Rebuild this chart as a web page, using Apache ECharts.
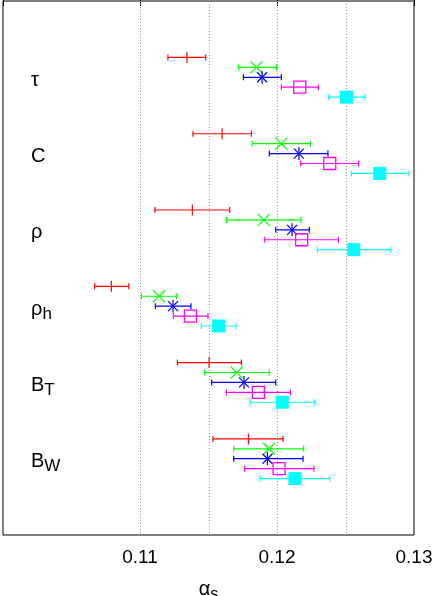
<!DOCTYPE html>
<html>
<head>
<meta charset="utf-8">
<script src="https://cdn.jsdelivr.net/npm/echarts@6/dist/echarts.min.js"></script>
<style>
html, body { margin: 0; padding: 0; background: #fff; }
#chart { width: 434px; height: 596px; }
</style>
</head>
<body>
<div id="chart"></div>
<script>
// observables (rows, top to bottom) : base letter + subscript
var obsBase = ['τ', 'C', 'ρ', 'ρ', 'B', 'B'];
var obsSub = ['', '', '', 'h', 'T', 'W'];
var xTickLabels = [0.11, 0.12, 0.13];
var guideValues = [0.11, 0.115, 0.12, 0.125];

// alpha_s per observable : [value, low, high]
var redSet = [
    [0.11343, 0.11204, 0.11480],
    [0.11599, 0.11387, 0.11813],
    [0.11382, 0.11109, 0.11655],
    [0.10791, 0.10669, 0.10918],
    [0.11504, 0.11273, 0.11740],
    [0.11791, 0.11533, 0.12044]
];
var greenSet = [
    [0.11850, 0.11718, 0.11996],
    [0.12032, 0.11818, 0.12244],
    [0.11903, 0.11631, 0.12175],
    [0.11139, 0.11010, 0.11266],
    [0.11706, 0.11470, 0.11942],
    [0.11942, 0.11684, 0.12195]
];
var blueSet = [
    [0.11891, 0.11755, 0.12032],
    [0.12160, 0.11944, 0.12372],
    [0.12110, 0.11991, 0.12236],
    [0.11241, 0.11112, 0.11372],
    [0.11759, 0.11523, 0.11991],
    [0.11930, 0.11684, 0.12190]
];
var magentaSet = [
    [0.12166, 0.12032, 0.12302],
    [0.12385, 0.12173, 0.12596],
    [0.12180, 0.11910, 0.12448],
    [0.11368, 0.11244, 0.11496],
    [0.11864, 0.11631, 0.12098],
    [0.12015, 0.11764, 0.12270]
];
var cyanSet = [
    [0.12507, 0.12375, 0.12642],
    [0.12750, 0.12543, 0.12964],
    [0.12560, 0.12295, 0.12830],
    [0.11574, 0.11448, 0.11701],
    [0.12039, 0.11803, 0.12273],
    [0.12131, 0.11876, 0.12385]
];

function toRows(set) {
    return set.map(function (d, i) { return [d[0], d[1], d[2], i + 1]; });
}

function makeRender(marker, color, offset) {
    return function (params, api) {
        var row = api.value(3) + offset;
        var c = api.coord([api.value(0), row]);
        var lo = api.coord([api.value(1), row]);
        var hi = api.coord([api.value(2), row]);
        var st = { stroke: color, lineWidth: 1.2, fill: null };
        var kids = [
            { type: 'line', shape: { x1: lo[0], y1: c[1], x2: hi[0], y2: c[1] }, style: st },
            { type: 'line', shape: { x1: lo[0], y1: c[1] - 3, x2: lo[0], y2: c[1] + 3 }, style: st },
            { type: 'line', shape: { x1: hi[0], y1: c[1] - 3, x2: hi[0], y2: c[1] + 3 }, style: st }
        ];
        var x = c[0], y = c[1];
        if (marker === 'plus') {
            kids.push({ type: 'line', shape: { x1: x, y1: y - 5.5, x2: x, y2: y + 5.5 }, style: st });
        } else if (marker === 'cross') {
            kids.push({ type: 'line', shape: { x1: x - 6, y1: y - 6, x2: x + 6, y2: y + 6 }, style: st });
            kids.push({ type: 'line', shape: { x1: x - 6, y1: y + 6, x2: x + 6, y2: y - 6 }, style: st });
        } else if (marker === 'star') {
            kids.push({ type: 'line', shape: { x1: x - 5, y1: y - 5, x2: x + 5, y2: y + 5 }, style: st });
            kids.push({ type: 'line', shape: { x1: x - 5, y1: y + 5, x2: x + 5, y2: y - 5 }, style: st });
            kids.push({ type: 'line', shape: { x1: x, y1: y - 6.5, x2: x, y2: y + 6.5 }, style: st });
        } else if (marker === 'square') {
            kids.push({ type: 'rect', shape: { x: x - 6, y: y - 6, width: 12, height: 12 }, style: { stroke: color, lineWidth: 1.3, fill: null } });
        } else if (marker === 'filled') {
            kids.push({ type: 'rect', shape: { x: x - 6.5, y: y - 6.5, width: 13, height: 13 }, style: { fill: color } });
        }
        return { type: 'group', children: kids };
    };
}

function makeSeries(name, set, marker, color, offset) {
    return {
        name: name,
        type: 'custom',
        renderItem: makeRender(marker, color, offset),
        encode: { x: [0, 1, 2], y: 3 },
        data: toRows(set),
        clip: false,
        z: 3
    };
}

// dotted vertical guides, one per value in guideValues
function renderGuide(params, api) {
    var p = api.coord([api.value(0), 0]);
    var cs = params.coordSys;
    var x = Math.round(p[0]) + 0.5;
    return {
        type: 'line',
        shape: { x1: x, y1: cs.y, x2: x, y2: cs.y + cs.height },
        style: { stroke: '#999', lineWidth: 1, lineDash: [1, 2] }
    };
}

var myChart = echarts.init(document.getElementById('chart'));
var font = '"Liberation Sans", Arial, sans-serif';

var series = [{
        name: 'guides',
        type: 'custom',
        renderItem: renderGuide,
        encode: { x: 0 },
        data: guideValues.map(function (v) { return [v]; }),
        silent: true,
        z: 1
    },
    makeSeries('red', redSet, 'plus', '#ff0000', -0.26),
    makeSeries('green', greenSet, 'cross', '#00ff00', -0.13),
    makeSeries('blue', blueSet, 'star', '#0000ff', 0),
    makeSeries('magenta', magentaSet, 'square', '#ff00ff', 0.13),
    makeSeries('cyan', cyanSet, 'filled', '#00ffff', 0.26)
];

var option = {
    animation: false,
    grid: {
        left: 3,
        top: 1,
        width: 411,
        height: 534,
        outerBoundsMode: 'none',
        containLabel: false,
        show: true,
        borderColor: '#000',
        borderWidth: 1
    },
    xAxis: [{
        type: 'value',
        position: 'bottom',
        min: 0.10,
        max: 0.13,
        interval: 0.01,
        name: '{a|α}{s|s}',
        nameLocation: 'middle',
        nameGap: 40,
        nameTextStyle: {
            rich: {
                a: { fontFamily: font, fontSize: 20, color: '#000', verticalAlign: 'middle' },
                s: { fontFamily: font, fontSize: 16, color: '#000', verticalAlign: 'middle', padding: [12, 0, 0, 0] }
            }
        },
        axisLine: { show: false },
        axisTick: { show: true, inside: true, length: 5, lineStyle: { color: '#000' } },
        splitLine: { show: false },
        axisLabel: {
            margin: 13,
            fontFamily: font,
            fontSize: 19,
            color: '#000',
            formatter: function (v) {
                for (var i = 0; i < xTickLabels.length; i++) {
                    if (Math.abs(v - xTickLabels[i]) < 1e-6) return xTickLabels[i].toFixed(2);
                }
                return '';
            }
        }
    }, {
        type: 'value',
        position: 'top',
        min: 0.10,
        max: 0.13,
        interval: 0.01,
        axisLine: { show: false },
        axisTick: { show: true, inside: true, length: 5, lineStyle: { color: '#000' } },
        axisLabel: { show: false },
        splitLine: { show: false }
    }],
    yAxis: {
        type: 'value',
        min: 0,
        max: 7,
        interval: 1,
        inverse: true,
        axisLine: { show: false },
        axisTick: { show: false },
        splitLine: { show: false },
        axisLabel: {
            inside: true,
            margin: 28,
            formatter: function (v) {
                var i = Math.round(v) - 1;
                if (i < 0 || i >= obsBase.length) return '';
                var s = '{b|' + obsBase[i] + '}';
                if (obsSub[i]) s += '{s|' + obsSub[i] + '}';
                else s += '{e|}';
                return s;
            },
            rich: {
                b: { fontFamily: font, fontSize: 20, color: '#000', verticalAlign: 'middle', padding: [6, 0, 0, 0] },
                s: { fontFamily: font, fontSize: 17, color: '#000', verticalAlign: 'middle', padding: [16, 0, 0, 0] },
                e: { fontSize: 17, verticalAlign: 'middle', padding: [16, 0, 0, 0] }
            }
        }
    },
    series: series
};
myChart.setOption(option);
</script>
</body>
</html>
